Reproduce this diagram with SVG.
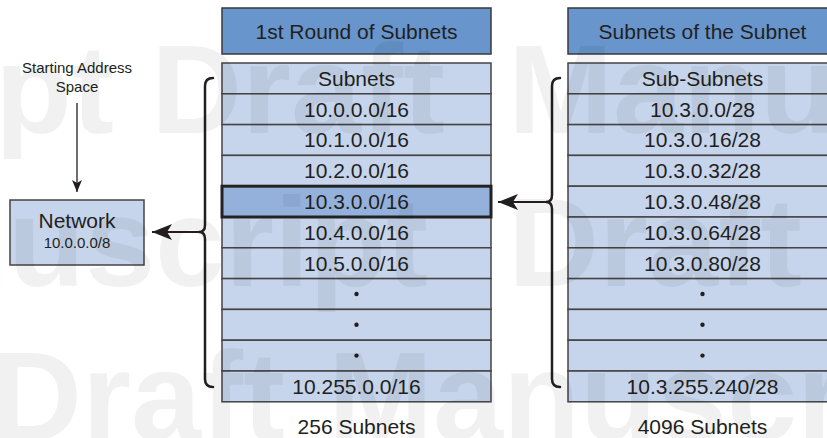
<svg xmlns="http://www.w3.org/2000/svg" width="827" height="438" viewBox="0 0 827 438">
  <style>
    .txt { font-family: "Liberation Sans", Arial, sans-serif; fill: #231f20; text-anchor: middle; }
    .head { fill: #6795cc; stroke: #3a3a3a; stroke-width: 1.5; }
    .row { fill: #c6d5ec; stroke: #444; stroke-width: 1.5; }
    .hl { fill: #94b1dc; stroke: #222; stroke-width: 3; }
    .brace { fill: none; stroke: #231f20; stroke-width: 2.5; stroke-linecap: round; }
    .conn { fill: none; stroke: #231f20; stroke-width: 2; }
    .thin { fill: none; stroke: #231f20; stroke-width: 1.3; }
    .wm { font-family: "Liberation Sans", Arial, sans-serif; font-weight: bold; font-size: 126px; fill: #000; fill-opacity: 0.055; }
  </style>
  <defs>
    <marker id="bigArrow" markerUnits="userSpaceOnUse" markerWidth="24" markerHeight="20" viewBox="-22 -10 24 20" refX="0" refY="0" orient="auto">
      <path d="M0,0 L-20,-8 L-15,0 L-20,8 Z" fill="#231f20"/>
    </marker>
    <marker id="smallArrow" markerUnits="userSpaceOnUse" markerWidth="16" markerHeight="12" viewBox="-14 -6 16 12" refX="0" refY="0" orient="auto">
      <path d="M0,0 L-12,-5 L-9,0 L-12,5 Z" fill="#231f20"/>
    </marker>
  </defs>

  <rect width="827" height="438" fill="#ffffff"/>

  <!-- starting address label -->
  <g id="start-label">
    <text class="txt" x="77" y="73" font-size="15">Starting Address</text>
    <text class="txt" x="77" y="92" font-size="15">Space</text>
  </g>

  <!-- network node -->
  <g id="network">
    <rect x="10" y="200" width="134" height="65" class="row"/>
    <text class="txt" x="77" y="228" font-size="21">Network</text>
    <text class="txt" x="77" y="248" font-size="15">10.0.0.0/8</text>
  </g>

  <!-- first round of subnets -->
  <g id="subnets">
    <rect x="222" y="8" width="269" height="46" class="head"/>
    <text class="txt" x="356.5" y="39" font-size="21">1st Round of Subnets</text>
    <rect x="222" y="63" width="269" height="30.8" class="row"/>
    <rect x="222" y="93.8" width="269" height="30.8" class="row"/>
    <rect x="222" y="124.6" width="269" height="30.8" class="row"/>
    <rect x="222" y="155.4" width="269" height="30.8" class="row"/>
    <rect x="222" y="217" width="269" height="30.8" class="row"/>
    <rect x="222" y="247.8" width="269" height="30.8" class="row"/>
    <rect x="222" y="278.6" width="269" height="30.8" class="row"/>
    <rect x="222" y="309.4" width="269" height="30.8" class="row"/>
    <rect x="222" y="340.2" width="269" height="30.8" class="row"/>
    <rect x="222" y="371" width="269" height="30.8" class="row"/>
    <rect x="222" y="186.2" width="269" height="30.8" class="hl"/>
    <text class="txt" x="356.5" y="86" font-size="21">Subnets</text>
    <text class="txt" x="356.5" y="116.5" font-size="21">10.0.0.0/16</text>
    <text class="txt" x="356.5" y="147.3" font-size="21">10.1.0.0/16</text>
    <text class="txt" x="356.5" y="178.1" font-size="21">10.2.0.0/16</text>
    <text class="txt" x="356.5" y="208.9" font-size="21">10.3.0.0/16</text>
    <text class="txt" x="356.5" y="239.7" font-size="21">10.4.0.0/16</text>
    <text class="txt" x="356.5" y="270.5" font-size="21">10.5.0.0/16</text>
    <circle cx="356.5" cy="294" r="2.2" fill="#231f20"/>
    <circle cx="356.5" cy="324.8" r="2.2" fill="#231f20"/>
    <circle cx="356.5" cy="355.6" r="2.2" fill="#231f20"/>
    <text class="txt" x="356.5" y="393.7" font-size="21">10.255.0.0/16</text>
    <text class="txt" x="356.5" y="434" font-size="21">256 Subnets</text>
  </g>

  <!-- subnets of the subnet -->
  <g id="sub-subnets">
    <rect x="568" y="8" width="269" height="46" class="head"/>
    <text class="txt" x="702.5" y="39" font-size="21">Subnets of the Subnet</text>
    <rect x="568" y="63" width="269" height="30.8" class="row"/>
    <rect x="568" y="93.8" width="269" height="30.8" class="row"/>
    <rect x="568" y="124.6" width="269" height="30.8" class="row"/>
    <rect x="568" y="155.4" width="269" height="30.8" class="row"/>
    <rect x="568" y="186.2" width="269" height="30.8" class="row"/>
    <rect x="568" y="217" width="269" height="30.8" class="row"/>
    <rect x="568" y="247.8" width="269" height="30.8" class="row"/>
    <rect x="568" y="278.6" width="269" height="30.8" class="row"/>
    <rect x="568" y="309.4" width="269" height="30.8" class="row"/>
    <rect x="568" y="340.2" width="269" height="30.8" class="row"/>
    <rect x="568" y="371" width="269" height="30.8" class="row"/>
    <text class="txt" x="702.5" y="86" font-size="21">Sub-Subnets</text>
    <text class="txt" x="702.5" y="116.5" font-size="21">10.3.0.0/28</text>
    <text class="txt" x="702.5" y="147.3" font-size="21">10.3.0.16/28</text>
    <text class="txt" x="702.5" y="178.1" font-size="21">10.3.0.32/28</text>
    <text class="txt" x="702.5" y="208.9" font-size="21">10.3.0.48/28</text>
    <text class="txt" x="702.5" y="239.7" font-size="21">10.3.0.64/28</text>
    <text class="txt" x="702.5" y="270.5" font-size="21">10.3.0.80/28</text>
    <circle cx="702.5" cy="294" r="2.2" fill="#231f20"/>
    <circle cx="702.5" cy="324.8" r="2.2" fill="#231f20"/>
    <circle cx="702.5" cy="355.6" r="2.2" fill="#231f20"/>
    <text class="txt" x="702.5" y="393.7" font-size="21">10.3.255.240/28</text>
    <text class="txt" x="702.5" y="434" font-size="21">4096 Subnets</text>
  </g>

  <!-- braces and arrows -->
  <g id="connectors">
    <line x1="77" y1="103" x2="77" y2="192" class="thin" marker-end="url(#smallArrow)"/>
    <path class="brace" d="M213,78 Q205,78 205,86 L205,225 Q205,232 199,232 Q205,232 205,239 L205,379 Q205,387 213,387"/>
    <line x1="199" y1="232" x2="152" y2="232" class="conn" marker-end="url(#bigArrow)"/>
    <path class="brace" d="M560,78 Q552,78 552,86 L552,195 Q552,202 546,202 Q552,202 552,209 L552,379 Q552,387 560,387"/>
    <line x1="546" y1="202" x2="498" y2="202" class="conn" marker-end="url(#bigArrow)"/>
  </g>

  <!-- background lettering -->
  <g id="watermark">
    <text class="wm" x="-5" y="133">pt</text>
    <text class="wm" x="151" y="133">Draft</text>
    <text class="wm" x="508" y="133">Manuscript</text>
    <text class="wm" x="-244" y="286">Manuscript</text>
    <text class="wm" x="508" y="286">Draft</text>
    <text class="wm" x="-9" y="440">Draft</text>
    <text class="wm" x="328" y="440">Manuscript</text>
  </g>
</svg>
